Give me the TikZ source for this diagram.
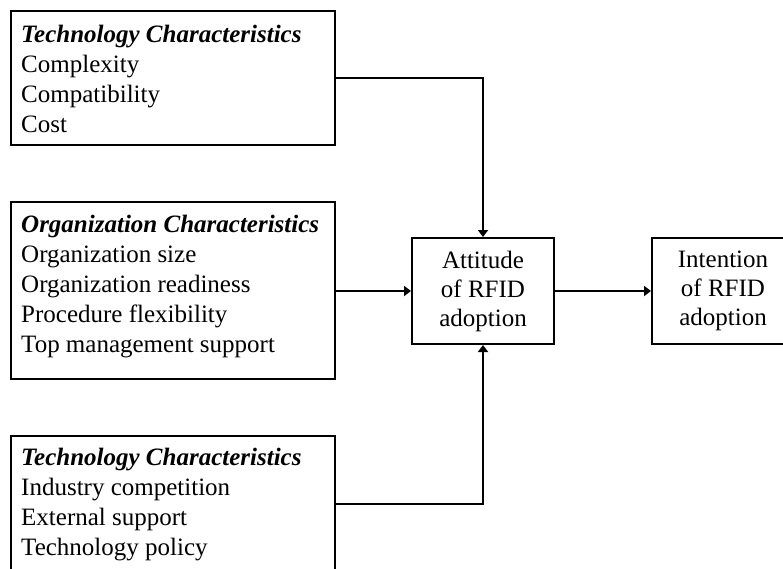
\documentclass[tikz,border=0pt]{standalone}
\usepackage{fontspec}
\setmainfont{Liberation Serif}
\usetikzlibrary{arrows.meta}
\begin{document}
\begin{tikzpicture}[x=1pt,y=-1pt,
  box/.style={draw,line width=2pt,rectangle,inner sep=0pt,anchor=north west},
  txt/.style={anchor=north west,align=left,inner sep=0pt,font=\fontsize{25}{30}\selectfont},
  ctxt/.style={align=center,inner sep=0pt,font=\fontsize{25}{29}\selectfont},
  conn/.style={line width=1.8pt},
  arr/.style={conn,-{Triangle[length=7pt,width=10pt]}}]
\useasboundingbox (0,0) rectangle (783,568);
% left boxes
\node[box,minimum width=324pt,minimum height=134pt] (t1) at (10,10) {};
\node[txt] (t1txt) at (21,25) {\textbf{\textit{Technology Characteristics}}\\Complexity\\Compatibility\\Cost};
\node[box,minimum width=324pt,minimum height=177pt] (t2) at (10,201) {};
\node[txt] (t2txt) at (21,215) {\textbf{\textit{Organization Characteristics}}\\Organization size\\Organization readiness\\Procedure flexibility\\Top management support};
\node[box,minimum width=324pt,minimum height=136pt] (t3) at (10,435) {};
\node[txt] (t3txt) at (21,448) {\textbf{\textit{Technology Characteristics}}\\Industry competition\\External support\\Technology policy};
% right boxes
\node[box,minimum width=142pt,minimum height=106pt] (att) at (411,237) {};
\node[ctxt] (atttxt) at (att.center) {Attitude\\of RFID\\adoption};
\node[box,minimum width=142pt,minimum height=106pt] (int) at (651,237) {};
\node[ctxt] (inttxt) at (int.center) {Intention\\of RFID\\adoption};
% connectors
\draw[arr] (t1.east) -| (att.north);
\draw[arr] (t2.east |- att.west) -- (att.west);
\draw[arr] (t3.east) -| (att.south);
\draw[arr] (att.east) -- (int.west);
\end{tikzpicture}
\end{document}
